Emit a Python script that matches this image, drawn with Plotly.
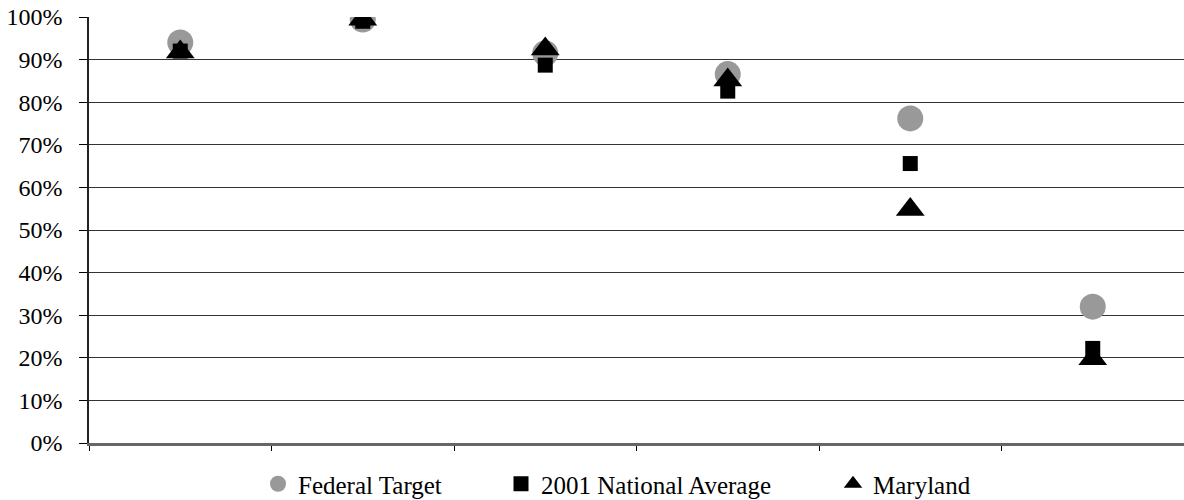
import plotly.graph_objects as go

categories = ["1", "2", "3", "4", "5", "6"]
federal_target = [0.94, 0.994, 0.915, 0.866, 0.762, 0.32]
national_avg_2001 = [0.92, 0.99, 0.887, 0.826, 0.656, 0.222]
maryland = [0.918, 0.995, 0.925, 0.852, 0.548, 0.198]
y_ticks = [i / 10 for i in range(11)]

FONT = "Times New Roman, Liberation Serif, serif"
L, R, T, B = 89, 0, 17, 57
W, H = 1184, 500
pw = W - L - R
ph = H - T - B

def px_x(p):
    return (p - L) / pw

def px_y(p):
    return (H - B - p) / ph

fig = go.Figure()
fig.add_trace(go.Scatter(
    x=categories, y=federal_target, mode="markers", name="Federal Target",
    marker=dict(symbol="circle", size=26, color="#999999"), legend="legend"))
fig.add_trace(go.Scatter(
    x=categories, y=national_avg_2001, mode="markers", name="2001 National Average",
    marker=dict(symbol="square", size=15, color="#000000"), legend="legend2"))
fig.add_trace(go.Scatter(
    x=categories, y=maryland, mode="markers", name="Maryland",
    marker=dict(symbol="triangle-up", size=25, color="#000000"), legend="legend3"))

leg_common = dict(orientation="h", yanchor="middle", xanchor="left",
                  font=dict(family=FONT, size=25, color="#000"),
                  bgcolor="rgba(0,0,0,0)", borderwidth=0)
fig.update_layout(
    width=W, height=H,
    margin=dict(l=L, r=R, t=T, b=B, autoexpand=False),
    paper_bgcolor="white", plot_bgcolor="white",
    font=dict(family=FONT, size=24, color="#000"),
    showlegend=True,
    legend=dict(x=px_x(258), y=px_y(484), **leg_common),
    legend2=dict(x=px_x(501), y=px_y(484), **leg_common),
    legend3=dict(x=px_x(833), y=px_y(484), **leg_common),
    xaxis=dict(
        type="category", range=[-0.5, 5.5], showticklabels=False,
        tickson="boundaries", ticks="outside", ticklen=5, tickcolor="#000",
        showgrid=False, showline=True, linecolor="#666", linewidth=2.5,
        zeroline=False, fixedrange=True, automargin=False),
    yaxis=dict(
        range=[0, 1], tickvals=y_ticks, tickformat=".0%",
        ticks="outside", ticklen=8, tickcolor="#000",
        ticklabelstandoff=12,
        showgrid=True, gridcolor="#333", gridwidth=1,
        showline=True, linecolor="#222", linewidth=1.5,
        zeroline=False, fixedrange=True, automargin=False,
        tickfont=dict(family=FONT, size=24, color="#000")),
)

fig.write_html("out.html", config={"displayModeBar": False},
               post_script="document.body.style.margin='0';")
